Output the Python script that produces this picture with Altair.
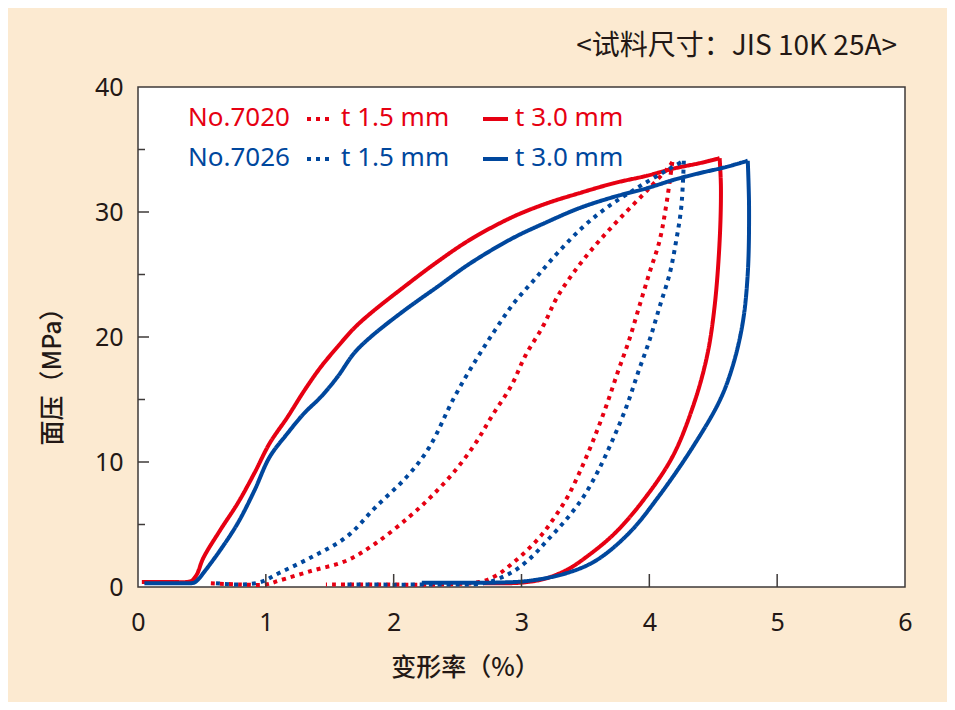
import altair as alt
import pandas as pd

# ---- data (deformation %, surface pressure MPa) ----
r15_x = [0.57, 0.80, 1.00, 1.10, 1.36, 1.63, 1.86, 2.12, 2.30, 2.48, 2.64, 2.77, 2.92, 3.03, 3.17, 3.28, 3.44, 3.60, 3.78, 3.98, 4.16, 4.18,
         4.13, 4.08, 4.00, 3.92, 3.84, 3.75, 3.66, 3.56, 3.46, 3.36, 3.26, 3.16, 3.05, 2.93, 2.80, 2.67, 2.30, 1.90, 1.47]
r15_y = [0.3, 0.2, 0.2, 0.5, 1.3, 2.1, 3.5, 5.6, 7.3, 9.3, 11.5, 13.7, 16.1, 18.5, 20.9, 23.2, 25.6, 27.6, 29.6, 31.7, 33.7, 34.0,
         30.4, 27.7, 25.1, 22.4, 19.7, 17.1, 14.4, 11.7, 9.3, 7.2, 5.6, 4.2, 3.0, 1.9, 0.9, 0.4, 0.2, 0.2, 0.2]

r30_x = [0.03, 0.15, 0.28, 0.38, 0.42, 0.46, 0.51, 0.64, 0.78, 0.91, 1.03, 1.17, 1.30, 1.43, 1.56, 1.69, 1.82, 2.08, 2.34, 2.60, 2.93, 3.20, 3.45, 3.72, 3.98, 4.20, 4.39, 4.55,
         4.56, 4.55, 4.51, 4.45, 4.34, 4.18, 3.95, 3.73, 3.52, 3.36, 3.18, 3.00, 2.85, 2.70]
r30_y = [0.4, 0.4, 0.4, 0.4, 0.5, 1.0, 2.3, 4.5, 6.7, 9.1, 11.5, 13.6, 15.7, 17.6, 19.2, 20.7, 21.9, 24.0, 26.0, 27.8, 29.6, 30.7, 31.5, 32.3, 32.9, 33.5, 33.9, 34.3,
         32.0, 27.7, 22.4, 18.4, 14.4, 10.4, 6.9, 4.3, 2.5, 1.4, 0.65, 0.35, 0.3, 0.3]

b15_x = [0.61, 0.80, 0.96, 1.10, 1.36, 1.63, 1.86, 2.11, 2.28, 2.47, 2.64, 2.79, 2.94, 3.11, 3.28, 3.47, 3.66, 3.90, 4.13, 4.27,
         4.25, 4.21, 4.16, 4.08, 4.00, 3.91, 3.82, 3.71, 3.60, 3.49, 3.39, 3.29, 3.19, 3.09, 2.96, 2.83, 2.70, 2.30, 1.63]
b15_y = [0.3, 0.2, 0.4, 1.1, 2.4, 4.0, 6.4, 8.9, 11.2, 15.1, 18.1, 20.5, 22.7, 24.7, 26.7, 28.7, 30.3, 31.9, 33.3, 34.1,
         30.4, 27.7, 25.1, 22.4, 19.7, 17.1, 14.4, 11.7, 9.3, 7.3, 5.9, 4.7, 3.6, 2.5, 1.4, 0.7, 0.3, 0.2, 0.2]

b30_x = [0.05, 0.17, 0.29, 0.39, 0.44, 0.47, 0.51, 0.64, 0.78, 0.91, 1.03, 1.17, 1.30, 1.43, 1.56, 1.69, 1.82, 2.08, 2.34, 2.60, 2.93, 3.20, 3.45, 3.72, 3.98, 4.20, 4.39, 4.60, 4.77,
         4.78, 4.77, 4.73, 4.65, 4.55, 4.34, 4.07, 3.84, 3.58, 3.35, 3.06, 2.80, 2.50, 2.22]
b30_y = [0.3, 0.3, 0.3, 0.3, 0.35, 0.6, 1.1, 2.9, 5.1, 7.7, 10.4, 12.3, 13.9, 15.2, 16.8, 18.7, 20.0, 22.1, 24.0, 25.9, 27.9, 29.2, 30.3, 31.2, 31.9, 32.6, 33.1, 33.6, 34.1,
         30.4, 25.1, 21.1, 17.6, 14.9, 11.2, 7.2, 4.3, 2.1, 1.1, 0.5, 0.35, 0.35, 0.35]

x_ticks = [1, 2, 3, 4, 5]
y_major = [10, 20, 30]
y_minor = [5, 15, 25, 35]

RED = "#e60012"
BLUE = "#00479d"
INK = "#231815"
BG = "#fcead1"

rows = []
for key, xs, ys in [("r15", r15_x, r15_y), ("r30", r30_x, r30_y),
                    ("b15", b15_x, b15_y), ("b30", b30_x, b30_y)]:
    p = ys.index(max(ys))
    for i in range(len(xs)):
        if i <= p:
            rows.append({"series": key, "seg": "load", "i": i, "x": xs[i], "y": ys[i]})
        if i >= p:
            rows.append({"series": key, "seg": "unload", "i": i, "x": xs[i], "y": ys[i]})
df = pd.DataFrame(rows)

xscale = alt.Scale(domain=[0, 6], nice=False, zero=False)
yscale = alt.Scale(domain=[0, 40], nice=False)

x_axis = alt.Axis(values=[0, 1, 2, 3, 4, 5, 6], ticks=False, domain=False, grid=False,
                  labelPadding=35, labelBaseline="middle", labelFontSize=25, labelFont="Noto Sans",
                  labelColor=INK, labelFlush=False,
                  title="变形率（%）", titleFont="Noto Sans CJK SC", titleFontSize=25, titleFontWeight=500,
                  titleColor=INK, titleX=327, titleY=80, titleBaseline="middle", titleAlign="center")
y_axis = alt.Axis(values=[0, 10, 20, 30, 40], ticks=False, domain=False, grid=False,
                  labelPadding=15, labelFontSize=25, labelFont="Noto Sans", labelColor=INK, labelFlush=False,
                  title="面压（MPa）", titleFont="Noto Sans CJK SC", titleFontSize=25, titleFontWeight=500,
                  titleColor=INK, titleX=-86, titleY=283, titleAngle=270, titleBaseline="middle",
                  titleAlign="center")

base = alt.Chart(df)


def curve(key, color, dash):
    return base.transform_filter(alt.datum.series == key).mark_line(
        color=color, strokeWidth=4, strokeDash=dash, strokeCap="butt", strokeJoin="miter",
        interpolate="catmull-rom"
    ).encode(
        x=alt.X("x:Q", scale=xscale, axis=x_axis),
        y=alt.Y("y:Q", scale=yscale, axis=y_axis),
        detail="seg:N",
        order=alt.Order("i:Q"),
    )


DOT = [4, 5]
SOLID = [1, 0]
lines = [curve("r15", RED, DOT), curve("r30", RED, SOLID),
         curve("b15", BLUE, DOT), curve("b30", BLUE, SOLID)]

# inward ticks
xt = alt.Chart(pd.DataFrame({"x": x_ticks})).mark_rule(color="#3e3a39", strokeWidth=1.5).encode(
    x=alt.X("x:Q", scale=xscale, axis=x_axis), y=alt.value(500), y2=alt.value(487))
ytM = alt.Chart(pd.DataFrame({"y": y_major})).mark_rule(color="#3e3a39", strokeWidth=1.5).encode(
    y=alt.Y("y:Q", scale=yscale, axis=y_axis), x=alt.value(0), x2=alt.value(11))
ytm = alt.Chart(pd.DataFrame({"y": y_minor})).mark_rule(color="#3e3a39", strokeWidth=1.5).encode(
    y=alt.Y("y:Q", scale=yscale, axis=y_axis), x=alt.value(0), x2=alt.value(7))

# legend (drawn inside the plot)
leg_rows = [("No.7020", RED, 31), ("No.7026", BLUE, 71)]
leg = []
for name, col, yy in leg_rows:
    for txt, xx in [(name, 50), ("t 1.5 mm", 203), ("t 3.0 mm", 377)]:
        leg.append(alt.Chart(pd.DataFrame({"t": [txt]})).mark_text(
            align="left", baseline="middle", font="Noto Sans", fontSize=26, color=col
        ).encode(text="t:N", x=alt.value(xx), y=alt.value(yy)))
    leg.append(alt.Chart(pd.DataFrame({"t": [0]})).mark_rule(
        color=col, strokeWidth=4, strokeDash=DOT, strokeCap="butt"
    ).encode(x=alt.value(169), x2=alt.value(196), y=alt.value(yy + 1)))
    leg.append(alt.Chart(pd.DataFrame({"t": [0]})).mark_rule(
        color=col, strokeWidth=4, strokeCap="butt"
    ).encode(x=alt.value(345), x2=alt.value(370), y=alt.value(yy + 1)))

title = alt.Chart(pd.DataFrame({"t": ["<试料尺寸：JIS 10K 25A>"]})).mark_text(
    align="right", baseline="middle", font="Noto Sans CJK SC", fontSize=28, color=INK
).encode(text="t:N", x=alt.value(759), y=alt.value(-40))

chart = alt.layer(*lines, xt, ytM, ytm, *leg, title).properties(
    width=767, height=500,
    autosize=alt.AutoSizeParams(type="none"),
    padding={"left": 130, "top": 79, "right": 42, "bottom": 115},
    background=BG,
).configure_view(fill="white", stroke="#3e3a39", strokeWidth=1.5)

chart.save("out.html", embed_options={"renderer": "svg", "actions": False})
